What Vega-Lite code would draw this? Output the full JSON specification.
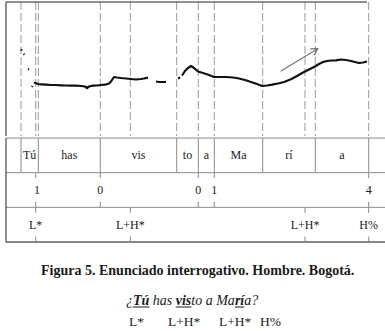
{
  "$schema": "https://vega.github.io/schema/vega-lite/v6.json",
  "padding": {"left": 5, "top": 1, "right": 0, "bottom": 0},
  "spacing": 0,
  "background": "white",
  "config": {"view": {"stroke": null}, "font": "Liberation Serif"},
  "resolve": {"scale": {"x": "independent", "y": "independent"}},
  "vconcat": [
    {
      "width": 380,
      "height": 134,
      "layer": [
        {
          "data": {"values": [{"t": 0.075}, {"t": 0.1485}, {"t": 0.1615}, {"t": 0.4715}, {"t": 0.6215}, {"t": 0.8535}, {"t": 0.9615}, {"t": 1.0415}, {"t": 1.2835}, {"t": 1.495}, {"t": 1.5465}, {"t": 1.8135}]},
          "mark": {"type": "rule", "color": "#9a9a9a", "strokeWidth": 1, "strokeDash": [8, 3]},
          "encoding": {"x": {"field": "t", "type": "quantitative", "scale": {"domain": [0, 1.9]}, "axis": null}}
        },
        {
          "data": {"values": [{"t0": 0, "t1": 1.805, "f": 318}]},
          "mark": {"type": "rule", "color": "#222", "strokeWidth": 1},
          "encoding": {
            "x": {"field": "t0", "type": "quantitative", "scale": {"domain": [0, 1.9]}, "axis": null},
            "x2": {"field": "t1"},
            "y": {"field": "f", "type": "quantitative", "scale": {"domain": [50, 318]}, "axis": null}
          }
        },
        {
          "data": {"values": [{"t": 0}]},
          "mark": {"type": "rule", "color": "#222", "strokeWidth": 1},
          "encoding": {"x": {"field": "t", "type": "quantitative", "scale": {"domain": [0, 1.9]}, "axis": null}}
        },
        {
          "data": {"values": [
            {"s": "A1", "t": 0.075, "f": 223}, {"s": "A1", "t": 0.08, "f": 221},
            {"s": "A2", "t": 0.0875, "f": 214}, {"s": "A2", "t": 0.0925, "f": 213},
            {"s": "A3", "t": 0.11, "f": 184}, {"s": "A3", "t": 0.115, "f": 183},
            {"s": "A4", "t": 0.13, "f": 148}, {"s": "A4", "t": 0.1325, "f": 150},
            {"s": "B", "t": 0.14, "f": 157}, {"s": "B", "t": 0.1475, "f": 156}, {"s": "B", "t": 0.16, "f": 154},
            {"s": "B", "t": 0.175, "f": 153.4}, {"s": "B", "t": 0.2, "f": 152.6}, {"s": "B", "t": 0.225, "f": 152},
            {"s": "B", "t": 0.25, "f": 152}, {"s": "B", "t": 0.275, "f": 151.4}, {"s": "B", "t": 0.3, "f": 151},
            {"s": "B", "t": 0.325, "f": 150.6}, {"s": "B", "t": 0.35, "f": 150.6}, {"s": "B", "t": 0.375, "f": 150},
            {"s": "B", "t": 0.395, "f": 149}, {"s": "B", "t": 0.405, "f": 146}, {"s": "B", "t": 0.415, "f": 149},
            {"s": "B", "t": 0.435, "f": 150.6}, {"s": "B", "t": 0.455, "f": 151}, {"s": "B", "t": 0.475, "f": 152},
            {"s": "B", "t": 0.495, "f": 152.6}, {"s": "B", "t": 0.515, "f": 155}, {"s": "B", "t": 0.525, "f": 159},
            {"s": "B", "t": 0.535, "f": 165}, {"s": "B", "t": 0.54, "f": 168}, {"s": "B", "t": 0.555, "f": 167},
            {"s": "B", "t": 0.575, "f": 166}, {"s": "B", "t": 0.6, "f": 165}, {"s": "B", "t": 0.625, "f": 164},
            {"s": "B", "t": 0.65, "f": 163}, {"s": "B", "t": 0.675, "f": 164}, {"s": "B", "t": 0.69, "f": 165},
            {"s": "B", "t": 0.71, "f": 166.6},
            {"s": "C", "t": 0.75, "f": 159}, {"s": "C", "t": 0.765, "f": 158}, {"s": "C", "t": 0.785, "f": 158}, {"s": "C", "t": 0.8, "f": 158},
            {"s": "D", "t": 0.86, "f": 165}, {"s": "D", "t": 0.87, "f": 167},
            {"s": "E", "t": 0.88, "f": 171}, {"s": "E", "t": 0.895, "f": 180}, {"s": "E", "t": 0.91, "f": 186},
            {"s": "E", "t": 0.925, "f": 190}, {"s": "E", "t": 0.94, "f": 186}, {"s": "E", "t": 0.96, "f": 179},
            {"s": "E", "t": 0.985, "f": 176}, {"s": "E", "t": 1.015, "f": 172}, {"s": "E", "t": 1.04, "f": 168},
            {"s": "E", "t": 1.065, "f": 168}, {"s": "E", "t": 1.1, "f": 168}, {"s": "E", "t": 1.135, "f": 167},
            {"s": "E", "t": 1.165, "f": 165}, {"s": "E", "t": 1.195, "f": 162}, {"s": "E", "t": 1.225, "f": 158},
            {"s": "E", "t": 1.255, "f": 154}, {"s": "E", "t": 1.28, "f": 150}, {"s": "E", "t": 1.305, "f": 151},
            {"s": "E", "t": 1.33, "f": 152.6}, {"s": "E", "t": 1.36, "f": 155}, {"s": "E", "t": 1.39, "f": 158},
            {"s": "E", "t": 1.425, "f": 163.4}, {"s": "E", "t": 1.455, "f": 170}, {"s": "E", "t": 1.485, "f": 177},
            {"s": "E", "t": 1.505, "f": 181}, {"s": "E", "t": 1.525, "f": 185}, {"s": "E", "t": 1.545, "f": 189},
            {"s": "E", "t": 1.565, "f": 194}, {"s": "E", "t": 1.585, "f": 198}, {"s": "E", "t": 1.605, "f": 200},
            {"s": "E", "t": 1.625, "f": 201}, {"s": "E", "t": 1.65, "f": 201.4}, {"s": "E", "t": 1.675, "f": 203},
            {"s": "E", "t": 1.7, "f": 202}, {"s": "E", "t": 1.725, "f": 200}, {"s": "E", "t": 1.745, "f": 198},
            {"s": "E", "t": 1.765, "f": 196}, {"s": "E", "t": 1.785, "f": 197}, {"s": "E", "t": 1.805, "f": 199}
          ]},
          "mark": {"type": "line", "color": "#111", "strokeWidth": 2.2, "strokeJoin": "round"},
          "encoding": {
            "x": {"field": "t", "type": "quantitative", "scale": {"domain": [0, 1.9]}, "axis": null},
            "y": {"field": "f", "type": "quantitative", "scale": {"domain": [50, 318]}, "axis": null},
            "detail": {"field": "s"}
          }
        },
        {
          "data": {"values": [
            {"t": 1.375, "f": 180, "t2": 1.5585, "f2": 224.6},
            {"t": 1.5585, "f": 224.6, "t2": 1.5235, "f2": 224.4},
            {"t": 1.5585, "f": 224.6, "t2": 1.5415, "f2": 212.4}
          ]},
          "mark": {"type": "rule", "color": "#777", "strokeWidth": 1.3, "strokeCap": "round"},
          "encoding": {
            "x": {"field": "t", "type": "quantitative", "scale": {"domain": [0, 1.9]}, "axis": null},
            "x2": {"field": "t2"},
            "y": {"field": "f", "type": "quantitative", "scale": {"domain": [50, 318]}, "axis": null},
            "y2": {"field": "f2"}
          }
        }
      ]
    },
    {
      "width": 380,
      "height": 104,
      "layer": [
        {
          "data": {"values": [{"v": 0, "t0": 0, "t1": 1.9}, {"v": 1, "t0": 0, "t1": 1.9}, {"v": 2, "t0": 0, "t1": 1.9}]},
          "mark": {"type": "rule", "color": "#8a8a8a", "strokeWidth": 1},
          "encoding": {
            "x": {"field": "t0", "type": "quantitative", "scale": {"domain": [0, 1.9]}, "axis": null},
            "x2": {"field": "t1"},
            "y": {"field": "v", "type": "quantitative", "scale": {"domain": [0, 3], "reverse": true}, "axis": null}
          }
        },
        {
          "data": {"values": [{"v": 3, "t0": 0, "t1": 1.9}]},
          "mark": {"type": "rule", "color": "#111", "strokeWidth": 1.2},
          "encoding": {
            "x": {"field": "t0", "type": "quantitative", "scale": {"domain": [0, 1.9]}, "axis": null},
            "x2": {"field": "t1"},
            "y": {"field": "v", "type": "quantitative", "scale": {"domain": [0, 3], "reverse": true}, "axis": null}
          }
        },
        {
          "data": {"values": [{"t": 0}]},
          "mark": {"type": "rule", "color": "#222", "strokeWidth": 1},
          "encoding": {"x": {"field": "t", "type": "quantitative", "scale": {"domain": [0, 1.9]}, "axis": null}}
        },
        {
          "data": {"values": [
            {"t": 0.075, "a": 0, "b": 1}, {"t": 0.1615, "a": 0, "b": 1}, {"t": 0.4715, "a": 0, "b": 1},
            {"t": 0.8535, "a": 0, "b": 1}, {"t": 0.9615, "a": 0, "b": 1}, {"t": 1.0415, "a": 0, "b": 1},
            {"t": 1.2835, "a": 0, "b": 1}, {"t": 1.5465, "a": 0, "b": 1}, {"t": 1.8135, "a": 0, "b": 1},
            {"t": 0.1485, "a": 1, "b": 1.16}, {"t": 0.1485, "a": 1.84, "b": 2},
            {"t": 0.4715, "a": 1, "b": 1.16}, {"t": 0.4715, "a": 1.84, "b": 2},
            {"t": 0.9615, "a": 1, "b": 1.16}, {"t": 0.9615, "a": 1.84, "b": 2},
            {"t": 1.0415, "a": 1, "b": 1.16}, {"t": 1.0415, "a": 1.84, "b": 2},
            {"t": 1.8135, "a": 1, "b": 1.16}, {"t": 1.8135, "a": 1.84, "b": 2},
            {"t": 0.1485, "a": 2, "b": 2.16}, {"t": 0.1485, "a": 2.84, "b": 3},
            {"t": 0.6215, "a": 2, "b": 2.16}, {"t": 0.6215, "a": 2.84, "b": 3},
            {"t": 1.495, "a": 2, "b": 2.16}, {"t": 1.495, "a": 2.84, "b": 3},
            {"t": 1.8135, "a": 2, "b": 2.16}, {"t": 1.8135, "a": 2.84, "b": 3}
          ]},
          "mark": {"type": "rule", "color": "#8a8a8a", "strokeWidth": 1},
          "encoding": {
            "x": {"field": "t", "type": "quantitative", "scale": {"domain": [0, 1.9]}, "axis": null},
            "y": {"field": "a", "type": "quantitative", "scale": {"domain": [0, 3], "reverse": true}, "axis": null},
            "y2": {"field": "b"}
          }
        },
        {
          "data": {"values": [
            {"t": 0.1185, "v": 0.5, "label": "Tú"}, {"t": 0.3165, "v": 0.5, "label": "has"},
            {"t": 0.6625, "v": 0.5, "label": "vis"}, {"t": 0.9075, "v": 0.5, "label": "to"},
            {"t": 1.0015, "v": 0.5, "label": "a"}, {"t": 1.1625, "v": 0.5, "label": "Ma"},
            {"t": 1.415, "v": 0.5, "label": "rí"}, {"t": 1.68, "v": 0.5, "label": "a"},
            {"t": 0.155, "v": 1.5, "label": "1"}, {"t": 0.4715, "v": 1.5, "label": "0"},
            {"t": 0.9615, "v": 1.5, "label": "0"}, {"t": 1.0415, "v": 1.5, "label": "1"},
            {"t": 1.8135, "v": 1.5, "label": "4"},
            {"t": 0.1485, "v": 2.5, "label": "L*"}, {"t": 0.6215, "v": 2.5, "label": "L+H*"},
            {"t": 1.495, "v": 2.5, "label": "L+H*"}, {"t": 1.8135, "v": 2.5, "label": "H%"}
          ]},
          "mark": {"type": "text", "fontSize": 12, "color": "#1a1a1a", "align": "center", "baseline": "middle", "font": "Liberation Serif"},
          "encoding": {
            "x": {"field": "t", "type": "quantitative", "scale": {"domain": [0, 1.9]}, "axis": null},
            "y": {"field": "v", "type": "quantitative", "scale": {"domain": [0, 3], "reverse": true}, "axis": null},
            "text": {"field": "label"}
          }
        }
      ]
    },
    {
      "width": 380,
      "height": 91,
      "layer": [
        {
          "data": {"values": [{"t": 0.9585, "r": 1.06, "label": "Figura 5. Enunciado interrogativo. Hombre. Bogotá."}]},
          "mark": {"type": "text", "fontSize": 14, "fontWeight": "bold", "color": "#1a1a1a", "align": "center", "baseline": "alphabetic", "font": "Liberation Serif"},
          "encoding": {
            "x": {"field": "t", "type": "quantitative", "scale": {"domain": [0, 1.9]}, "axis": null},
            "y": {"field": "r", "type": "quantitative", "scale": {"domain": [0, 3], "reverse": true}, "axis": null},
            "text": {"field": "label"}
          }
        },
        {
          "data": {"values": [
            {"t": 0.6, "r": 2.04, "label": "¿"},
            {"t": 0.734, "r": 2.04, "label": "has"},
            {"t": 0.9265, "r": 2.04, "label": "to a Ma"},
            {"t": 1.191, "r": 2.04, "label": "a?"}
          ]},
          "mark": {"type": "text", "fontSize": 14, "fontStyle": "italic", "color": "#1a1a1a", "align": "left", "baseline": "alphabetic", "font": "Liberation Serif"},
          "encoding": {
            "x": {"field": "t", "type": "quantitative", "scale": {"domain": [0, 1.9]}, "axis": null},
            "y": {"field": "r", "type": "quantitative", "scale": {"domain": [0, 3], "reverse": true}, "axis": null},
            "text": {"field": "label"}
          }
        },
        {
          "data": {"values": [
            {"t": 0.635, "r": 2.04, "label": "Tú"},
            {"t": 0.8485, "r": 2.04, "label": "vis"},
            {"t": 1.1445, "r": 2.04, "label": "rí"}
          ]},
          "mark": {"type": "text", "fontSize": 14, "fontStyle": "italic", "fontWeight": "bold", "color": "#1a1a1a", "align": "left", "baseline": "alphabetic", "font": "Liberation Serif"},
          "encoding": {
            "x": {"field": "t", "type": "quantitative", "scale": {"domain": [0, 1.9]}, "axis": null},
            "y": {"field": "r", "type": "quantitative", "scale": {"domain": [0, 3], "reverse": true}, "axis": null},
            "text": {"field": "label"}
          }
        },
        {
          "data": {"values": [
            {"t": 0.635, "t2": 0.7165, "r": 2.11},
            {"t": 0.8485, "t2": 0.9265, "r": 2.11},
            {"t": 1.1445, "t2": 1.191, "r": 2.11}
          ]},
          "mark": {"type": "rule", "color": "#1a1a1a", "strokeWidth": 1},
          "encoding": {
            "x": {"field": "t", "type": "quantitative", "scale": {"domain": [0, 1.9]}, "axis": null},
            "x2": {"field": "t2"},
            "y": {"field": "r", "type": "quantitative", "scale": {"domain": [0, 3], "reverse": true}, "axis": null}
          }
        },
        {
          "data": {"values": [
            {"t": 0.615, "r": 2.72, "label": "L*"},
            {"t": 0.81, "r": 2.72, "label": "L+H*"},
            {"t": 1.065, "r": 2.72, "label": "L+H*"},
            {"t": 1.27, "r": 2.72, "label": "H%"}
          ]},
          "mark": {"type": "text", "fontSize": 13.5, "color": "#1a1a1a", "align": "left", "baseline": "alphabetic", "font": "Liberation Serif"},
          "encoding": {
            "x": {"field": "t", "type": "quantitative", "scale": {"domain": [0, 1.9]}, "axis": null},
            "y": {"field": "r", "type": "quantitative", "scale": {"domain": [0, 3], "reverse": true}, "axis": null},
            "text": {"field": "label"}
          }
        }
      ]
    }
  ]
}
